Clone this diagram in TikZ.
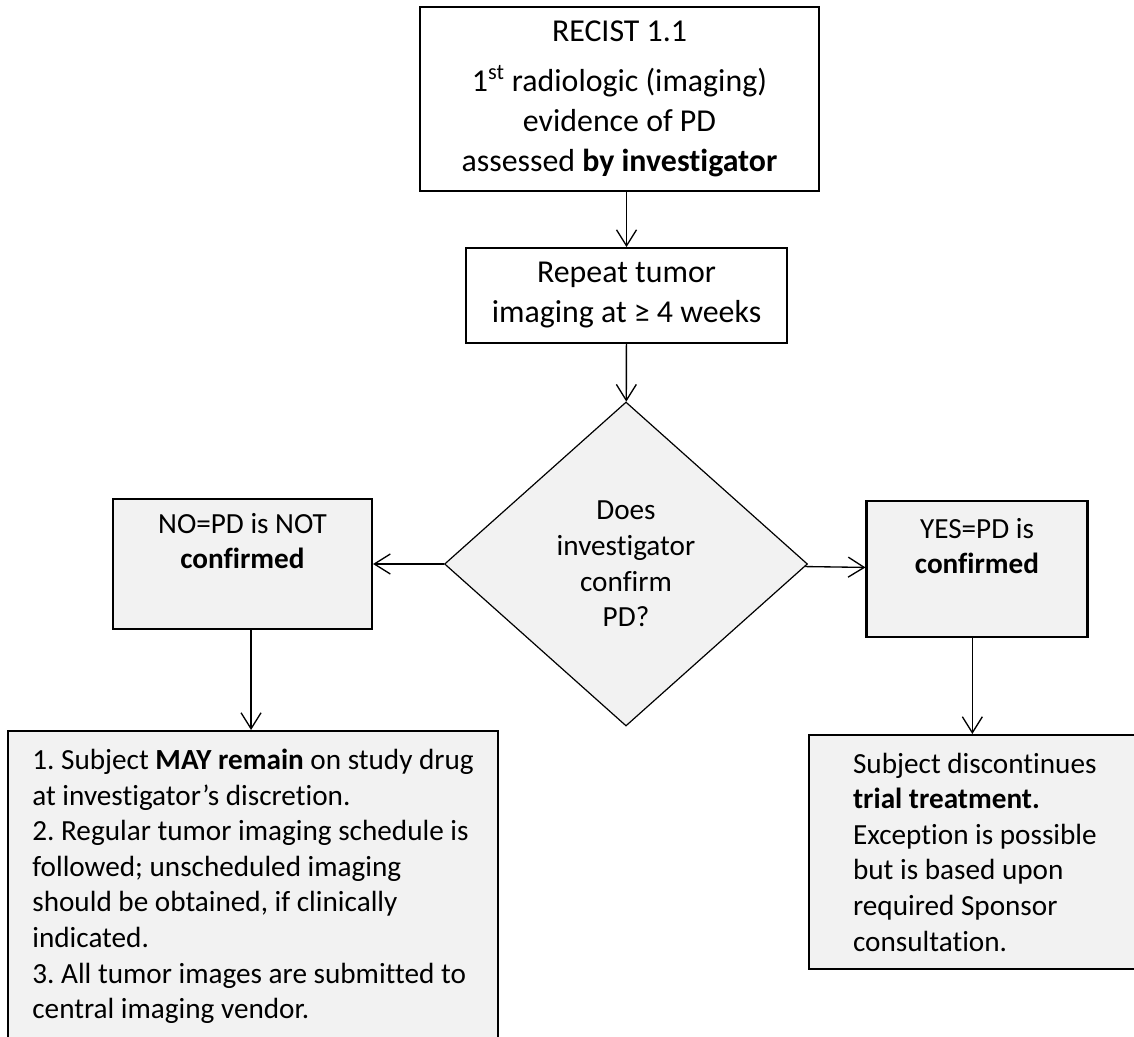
\documentclass[tikz,border=0pt]{standalone}
\usepackage{fontspec}
\setmainfont{Carlito}[Ligatures=NoCommon]
\usetikzlibrary{shapes.geometric,arrows.meta,positioning}
\frenchspacing

\definecolor{boxgray}{RGB}{242,242,242}

\tikzset{every picture/.style={line width=0.75pt}}
\tikzset{
big text/.style={font=\fontsize{23.9}{30}\selectfont},
small text/.style={font=\fontsize{21.9}{26.7}\selectfont},
white box/.style={draw=black, line width=1.4pt, fill=white, inner sep=0pt, align=center, big text},
gray box/.style={draw=black, line width=1.6pt, fill=boxgray, inner sep=0pt, small text},
decision/.style={diamond, draw=black, line width=0.9pt, fill=boxgray, inner sep=0pt, align=center, small text},
flow/.style={-{Straight Barb[length=12pt,width=15pt]}, line width=1pt}
}

\begin{document}
\begin{tikzpicture}[x=0.75pt,y=0.75pt,yscale=-1,xscale=1]

\useasboundingbox (0,0) rectangle (1134,1037);
\clip (0,0) rectangle (1134,1037);

% BOXES

\node [white box, minimum width=299.25pt, minimum height=138pt] (recist) at (619.5,99)
    {RECIST 1.1\\[7pt]
     1\textsuperscript{st} radiologic (imaging)\\
     evidence of PD\\
     assessed \textbf{by investigator}};

\node [white box, minimum width=240.75pt, minimum height=71.25pt] (repeat) at (626.5,295.5)
    {Repeat tumor\\ imaging at ≥ 4 weeks};

\node [decision, minimum width=272.25pt, minimum height=243pt] (confirm) at (626,564)
    {Does\\ investigator\\ confirm\\ PD?};

\node [gray box, align=center, minimum width=194.25pt, minimum height=97.5pt] (notpd) at (242.5,564)
    {NO=PD is NOT\\ \textbf{confirmed}\\ \strut};

\node [gray box, align=center, minimum width=165.75pt, minimum height=102pt] (yespd) at (977,569)
    {YES=PD is\\ \textbf{confirmed}\\ \strut};

\node [gray box, anchor=north west, align=left, minimum width=367.5pt, inner xsep=15pt,
       inner ysep=13.5pt] (remain) at (7,730)
    {1. Subject \textbf{MAY remain} on study drug\\
     at investigator’s discretion.\\
     2. Regular tumor imaging schedule is\\
     followed; unscheduled imaging\\
     should be obtained, if clinically\\
     indicated.\\
     3. All tumor images are submitted to\\
     central imaging vendor.\\
     \strut};

\node [gray box, anchor=north west, align=left, inner xsep=33pt,
       inner ysep=0pt, minimum height=175.5pt] (stop) at (808,734)
    {Subject discontinues\\
     \textbf{trial treatment.}\\
     Exception is possible\\
     but is based upon\\
     required Sponsor\\
     consultation.};

% ARROWS

\draw [flow] (recist.south -| repeat.north) -- (repeat.north);
\draw [flow] (repeat) -- (confirm);
\draw [flow] (confirm) -- (notpd);
\draw [flow] (confirm) -- (yespd);
\draw [flow] ([xshift=6.4pt]notpd.south) -- ([xshift=6.4pt]notpd.south |- remain.north);
\draw [flow] ([xshift=-3.5pt]yespd.south) -- ([xshift=-3.5pt]yespd.south |- stop.north);

\end{tikzpicture}
\end{document}
